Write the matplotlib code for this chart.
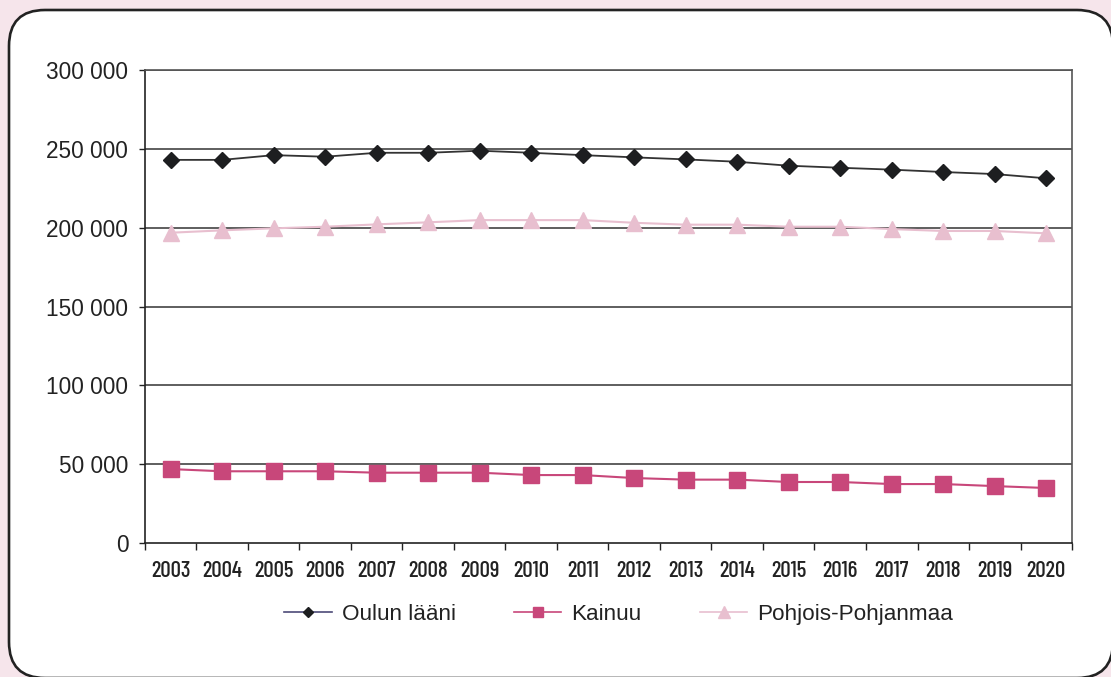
import matplotlib.pyplot as plt
from matplotlib.lines import Line2D
from matplotlib.patches import FancyBboxPatch
from matplotlib.ticker import FuncFormatter

years = list(range(2003, 2021))
oulun_laani = [243000, 243000, 246000, 245000, 247500, 247500, 248800, 247500, 246000,
               244600, 243300, 241800, 239300, 238000, 236800, 235300, 234000, 231300]
kainuu = [46900, 45500, 45500, 45500, 44600, 44600, 44600, 43100, 43100,
          41200, 40200, 40200, 38700, 38700, 37400, 37400, 36100, 34900]
pohjois_pohjanmaa = [196800, 198300, 199600, 200600, 202100, 203400, 204800, 204800, 204800,
                     203100, 201900, 201900, 200600, 200600, 199100, 197900, 197900, 196400]
y_ticks = [0, 50000, 100000, 150000, 200000, 250000, 300000]

bg = "#f6e5eb"
black = "#1d1e20"
kainuu_col = "#c8477a"
pohjois_col = "#e8bfcf"

fig = plt.figure(figsize=(11.11, 6.77), dpi=100, facecolor=bg)

# rounded white panel behind the chart
panel = FancyBboxPatch((0.09, -0.01), 11.04, 6.68,
                       boxstyle="round,pad=0,rounding_size=0.36",
                       transform=fig.dpi_scale_trans,
                       facecolor="white", edgecolor="#222222", linewidth=1.9, zorder=-5)
fig.patches.append(panel)

ax = fig.add_axes([0.1305, 0.1979, 0.8344, 0.6987])
ax.set_zorder(2)
ax.set_facecolor("none")
x = list(range(len(years)))

for v in y_ticks[1:]:
    ax.axhline(v, color="#333333", linewidth=1.1, zorder=1)

ax.plot(x, oulun_laani, color="#333333", linewidth=1.3, marker="D", markersize=8.3,
        markerfacecolor=black, markeredgecolor=black, zorder=4)
ax.plot(x, kainuu, color=kainuu_col, linewidth=1.5, marker="s", markersize=11.4,
        markerfacecolor=kainuu_col, markeredgecolor=kainuu_col, zorder=3)
ax.plot(x, pohjois_pohjanmaa, color=pohjois_col, linewidth=1.5, marker="^", markersize=11.7,
        markerfacecolor=pohjois_col, markeredgecolor=pohjois_col, zorder=3)

ax.set_xlim(-0.5, len(years) - 0.5)
ax.set_ylim(0, 300000)
ax.set_yticks(y_ticks)
ax.yaxis.set_major_formatter(FuncFormatter(lambda v, p: f"{int(v):,}".replace(",", " ")))
ax.tick_params(axis="y", direction="out", length=4, width=1, pad=8,
               labelsize=16.3, labelcolor="#222222", color="#222222")
for lab in ax.get_yticklabels():
    lab.set_family(["Liberation Sans", "DejaVu Sans"])

# ticks between categories, labels centred under them
ax.set_xticks([i + 0.5 for i in range(-1, len(years))], minor=False)
ax.set_xticklabels([])
ax.set_xticks(x, minor=True)
ax.set_xticklabels([str(y) for y in years], minor=True)
ax.tick_params(axis="x", which="major", direction="out", length=5, width=1, color="#222222")
ax.tick_params(axis="x", which="minor", length=0, pad=13, labelsize=16.5, labelcolor="#222222")
for lab in ax.get_xticklabels(minor=True):
    lab.set_family(["Barlow Condensed", "Roboto Condensed", "DejaVu Sans"])
    lab.set_weight("medium")

for side in ["left", "bottom"]:
    ax.spines[side].set_color("#222222")
    ax.spines[side].set_linewidth(1.2)
for side in ["right", "top"]:
    ax.spines[side].set_color("#555555")
    ax.spines[side].set_linewidth(1.2)

handles = [
    Line2D([], [], color="#4d4a78", linewidth=1.2, marker="D", markersize=5.5,
           markerfacecolor=black, markeredgecolor=black),
    Line2D([], [], color=kainuu_col, linewidth=1.2, marker="s", markersize=7.5,
           markerfacecolor=kainuu_col, markeredgecolor=kainuu_col),
    Line2D([], [], color=pohjois_col, linewidth=1.2, marker="^", markersize=8,
           markerfacecolor=pohjois_col, markeredgecolor=pohjois_col),
]
leg = fig.legend(handles, ["Oulun lääni", "Kainuu", "Pohjois-Pohjanmaa"],
                 loc="center", bbox_to_anchor=(0.557, 0.092), ncol=3, frameon=False,
                 handlelength=2.1, handletextpad=0.45, columnspacing=2.6,
                 prop={"family": ["Liberation Sans", "DejaVu Sans"], "size": 16.2})
for t in leg.get_texts():
    t.set_color("#222222")

fig.savefig("out.png", dpi=100, facecolor=bg)
